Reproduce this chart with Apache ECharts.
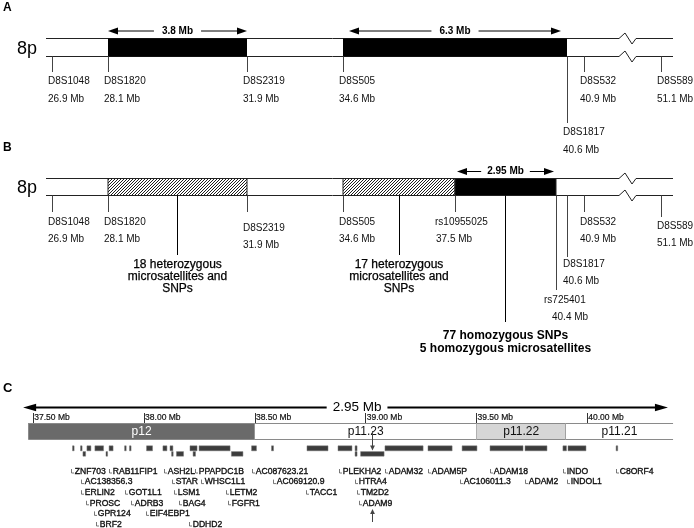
<!DOCTYPE html>
<html><head><meta charset="utf-8">
<script src="https://cdn.jsdelivr.net/npm/echarts@6/dist/echarts.min.js"></script>
<style>html,body{margin:0;padding:0;background:#fff}#c{width:694px;height:528px}</style>
</head><body><div id="c"></div>
<script>
// ================= DATA =================
// Markers (panels A & B)
const markerNames = ['D8S1048','D8S1820','D8S2319','D8S505','rs10955025','rs725401','D8S1817','D8S532','D8S589'];
const markerMb    = [26.9, 28.1, 31.9, 34.6, 37.5, 40.4, 40.6, 40.9, 51.1];
const panelAMarkers = ['D8S1048','D8S1820','D8S2319','D8S505','D8S1817','D8S532','D8S589'];
const panelBMarkers = ['D8S1048','D8S1820','D8S2319','D8S505','rs10955025','rs725401','D8S1817','D8S532','D8S589'];
// Panel A blocks of homozygosity
const blockAFrom = ['D8S1820','D8S505'];
const blockATo   = ['D8S2319','D8S1817'];
const blockASize = ['3.8 Mb','6.3 Mb'];
// Panel B blocks
const blockBFrom = ['D8S1820','D8S505','rs10955025'];
const blockBTo   = ['D8S2319','rs10955025','rs725401'];
const blockBType = ['het','het','hom'];
const blockBSize = ['','','2.95 Mb'];
const blockBNote = [
  ['18 heterozygous','microsatellites and','SNPs'],
  ['17 heterozygous','microsatellites and','SNPs'],
  ['77 homozygous SNPs','5 homozygous microsatellites']
];
// Panel C: cytobands
const bandNames   = ['p12','p11.23','p11.22','p11.21'];
const bandStartMb = [37.477, 38.5, 39.5, 39.903];
const bandEndMb   = [38.5, 39.5, 39.903, 40.387];
const bandStain   = ['gpos75','gneg','gpos25','gneg'];
const axisTickMb  = [37.5, 38.0, 38.5, 39.0, 39.5, 40.0];
const regionStartMb = 37.454, regionEndMb = 40.364, regionLabel = '2.95 Mb', regionLabelMb = 38.961;
// Panel C: gene blocks (start Mb, end Mb, track row)
const geneStartMb = [37.677,37.713,37.742,37.778,37.842,37.912,37.934,38.011,38.085,38.117,38.207,38.248,38.485,38.575,38.735,38.875,38.952,39.087,39.281,39.435,39.561,39.719,39.890,39.913,40.130,
                     37.724,37.828,38.124,38.146,38.221,38.394,38.952,38.977];
const geneEndMb   = [37.683,37.720,37.760,37.817,37.860,37.917,37.941,38.038,38.103,38.130,38.239,38.388,38.507,38.584,38.830,38.938,38.961,39.259,39.390,39.502,39.710,39.818,39.906,39.994,40.136,
                     37.736,37.835,38.130,38.178,38.232,38.446,38.961,39.083];
const geneRow     = [0,0,0,0,0,0,0,0,0,0,0,0,0,0,0,0,0,0,0,0,0,0,0,0,0,
                     1,1,1,1,1,1,1,1];
// Panel C: gene labels
const geneLabelNames = ['ZNF703','RAB11FIP1','ASH2L','PPAPDC1B','AC087623.21','PLEKHA2','ADAM32','ADAM5P','ADAM18','INDO','C8ORF4',
  'AC138356.3','STAR','WHSC1L1','AC069120.9','HTRA4','AC106011.3','ADAM2','INDOL1',
  'ERLIN2','GOT1L1','LSM1','LETM2','TACC1','TM2D2',
  'PROSC','ADRB3','BAG4','FGFR1','ADAM9',
  'GPR124','EIF4EBP1',
  'BRF2','DDHD2'];
const geneLabelMb = [37.673,37.846,38.094,38.234,38.491,38.881,39.090,39.283,39.561,39.891,40.133,
  37.718,38.130,38.260,38.582,38.952,39.429,39.721,39.912,
  37.718,37.914,38.139,38.373,38.734,38.965,
  37.742,37.944,38.162,38.383,38.970,
  37.774,38.012,
  37.786,38.207];
const geneLabelRow = [0,0,0,0,0,0,0,0,0,0,0,
  1,1,1,1,1,1,1,1,
  2,2,2,2,2,2,
  3,3,3,3,3,
  4,4,
  5,5];
const highlightGene = 'ADAM9', highlightMb = 39.03;

// ================= LAYOUT / STYLE =================
const FONT = '"Liberation Sans", Arial, Helvetica, sans-serif';
const INK = '#111';
const schematicX = {D8S1048:52, D8S1820:108, D8S2319:247, D8S505:343, rs10955025:455, rs725401:556, D8S1817:567, D8S532:584, D8S589:661};
const chromSpan = [46, 673];
const breakPts = [[619,0],[625,-5.5],[632,5.5],[636,0]];
const panels = {
  A: {top:38.5, bot:56, arrowY:31, letterY:7.5, p8Y:49.5},
  B: {top:178, bot:195, arrowY:171.5, letterY:147.5, p8Y:188.5}
};
const labelA = {def:{tick:72, name:81.5, mb:99.2, dxN:-4, dxM:-4}, D8S1817:{tick:123, name:132.5, mb:150.5}};
const labelB = {def:{tick:212, name:222, mb:239.7, dxN:-4, dxM:-4},
  D8S2319:{name:228, mb:245.5}, D8S589:{tick:217, name:226, mb:243.5},
  D8S1817:{tick:257, name:264, mb:281}, rs725401:{tick:290, name:300, mb:317, dxN:-12},
  rs10955025:{dxN:-20, dxM:-19}};
const arrowInsetA = [0, 6], arrowInsetB = [0, 0, 2];
const noteLayout = {het:{lineEnd:255, ys:[265,277,289], weight:'normal'}, hom:{lineEnd:322, ys:[335.5,349], weight:'bold'}};
const geneRowY = [[445.8,450.8],[451.6,456.2]];
const labelRowY = [471.5, 482.1, 492.7, 503.3, 513.9, 524.5];
const bandTop = 423, bandBot = 439;
const stainFill = {gpos75:'#6a6a6a', gneg:'#ffffff', gpos25:'#d6d6d6'};
const stainText = {gpos75:'#ffffff', gneg:'#111', gpos25:'#111'};

const mctx = document.createElement('canvas').getContext('2d');
function tw(t, font){ mctx.font = font; return mctx.measureText(t).width; }
function cr(v){ return Math.round(v - 0.5) + 0.5; }
function txt(t, x, y, size, weight, align, fill, embolden){
  const s = {text:t, x:x, y:y, fill:fill||INK, font:(weight||'normal')+' '+size+'px '+FONT, align:align||'left', verticalAlign:'middle'};
  if (embolden) { s.stroke = fill||INK; s.lineWidth = embolden; }
  return {type:'text', style:s};
}
function hline(x1,x2,y,col,lw){ return {type:'line', shape:{x1:x1,y1:y,x2:x2,y2:y}, style:{stroke:col||INK, lineWidth:lw||1}}; }
function vline(x,y1,y2,col,lw){ return {type:'line', shape:{x1:x,y1:y1,x2:x,y2:y2}, style:{stroke:col||INK, lineWidth:lw||1}}; }
function dblArrow(x1, x2, y, label, size, weight, head, half, lw, labelX, gap){
  const font = weight+' '+size+'px '+FONT;
  const w = tw(label, font);
  const cx = labelX;
  const ch = [];
  ch.push(hline(x1+head-1, cx-w/2-gap, y, '#000', lw));
  ch.push(hline(cx+w/2+gap, x2-head+1, y, '#000', lw));
  ch.push({type:'polygon', shape:{points:[[x1,y],[x1+head,y-half],[x1+head,y+half]]}, style:{fill:'#000'}});
  ch.push({type:'polygon', shape:{points:[[x2,y],[x2-head,y-half],[x2-head,y+half]]}, style:{fill:'#000'}});
  ch.push(txt(label, cx, y, size, weight, 'center', '#000'));
  return ch;
}
function makeHatch(){
  const c = document.createElement('canvas'); c.width = 3; c.height = 3;
  const g = c.getContext('2d'); g.fillStyle = '#fff'; g.fillRect(0,0,3,3);
  g.strokeStyle = '#1e1e1e'; g.lineWidth = 1;
  g.beginPath(); g.moveTo(0,3); g.lineTo(3,0); g.moveTo(-1,1); g.lineTo(1,-1); g.moveTo(2,4); g.lineTo(4,2); g.stroke();
  return c;
}
const hatch = makeHatch();

// ---------- render functions ----------
function outlineRender(params, api){
  const key = params.dataIndex === 0 ? 'A' : 'B';
  const L = panels[key];
  const ch = [];
  [L.top, L.bot].forEach(function(yy){
    const a = api.coord([chromSpan[0], yy]), b = api.coord([breakPts[0][0], yy]);
    const y = cr(a[1]);
    ch.push(hline(a[0], b[0], y, '#222'));
    const pts = breakPts.map(function(p){ const q = api.coord([p[0], yy + p[1]]); return [q[0], y + (q[1]-a[1])]; });
    ch.push({type:'polyline', shape:{points:pts}, style:{stroke:'#222', lineWidth:1, fill:null}});
    const c = api.coord([breakPts[3][0], yy]), d = api.coord([chromSpan[1], yy]);
    ch.push(hline(c[0], d[0], y, '#222'));
  });
  const lp = api.coord([3, L.letterY]);
  ch.push(txt(key, lp[0], lp[1], 12, 'bold', 'left', '#000'));
  const p8 = api.coord([17, L.p8Y]);
  ch.push(txt('8p', p8[0], p8[1], 18, 'normal', 'left', '#000'));
  return {type:'group', children:ch};
}
function blocksARender(params, api){
  const i = params.dataIndex;
  const L = panels.A;
  const a = api.coord([api.value(0), L.top]), b = api.coord([api.value(1), L.bot]);
  const ch = [{type:'rect', shape:{x:a[0], y:cr(a[1]), width:b[0]-a[0], height:cr(b[1])-cr(a[1])}, style:{fill:'#000'}}];
  const ay = api.coord([0, L.arrowY])[1];
  const ins = arrowInsetA[i];
  dblArrow(a[0]+ins, b[0]-ins, ay, blockASize[i], 10, 'bold', 10, 3.6, 1, (a[0]+b[0])/2, 8).forEach(function(c){ch.push(c);});
  return {type:'group', children:ch};
}
function blocksBRender(params, api){
  const i = params.dataIndex;
  const L = panels.B;
  const a = api.coord([api.value(0), L.top]), b = api.coord([api.value(1), L.bot]);
  const type = blockBType[i];
  const ch = [{type:'rect', shape:{x:a[0], y:cr(a[1]), width:b[0]-a[0], height:cr(b[1])-cr(a[1])},
    style:{fill: type === 'hom' ? '#000' : {image:hatch, repeat:'repeat'}, stroke:'#222', lineWidth:1}}];
  const mx = (a[0]+b[0])/2;
  if (blockBSize[i]) {
    const ay = api.coord([0, L.arrowY])[1];
    const ins = arrowInsetB[i];
    dblArrow(a[0]+ins, b[0]-ins, ay, blockBSize[i], 10, 'bold', 10, 3.6, 1, mx, 6).forEach(function(c){ch.push(c);});
  }
  const N = noteLayout[type];
  const e = api.coord([0, N.lineEnd])[1];
  ch.push(vline(cr(mx), cr(b[1]), e, '#000'));
  blockBNote[i].forEach(function(t, k){
    const y = api.coord([0, N.ys[k]])[1];
    ch.push(txt(t, mx, y, 12, N.weight, 'center', '#000', N.weight === 'normal' ? 0.25 : 0));
  });
  return {type:'group', children:ch};
}
function markerRender(panelKey, names, cfgs){
  return function(params, api){
    const name = names[params.dataIndex];
    const idx = markerNames.indexOf(name);
    const cfg = Object.assign({}, cfgs.def, cfgs[name] || {});
    const x = api.value(0);
    const p0 = api.coord([x, panels[panelKey].bot]);
    const p1 = api.coord([x, cfg.tick]);
    const pn = api.coord([x + cfg.dxN, cfg.name]);
    const pm = api.coord([x + cfg.dxM, cfg.mb]);
    return {type:'group', children:[
      vline(cr(p0[0]), cr(p0[1]), p1[1], '#444'),
      txt(name, pn[0], pn[1], 10, 'normal', 'left', INK),
      txt(markerMb[idx].toFixed(1) + ' Mb', pm[0], pm[1], 10, 'normal', 'left', INK)
    ]};
  };
}
function bandRender(params, api){
  const i = params.dataIndex;
  const a = api.coord([api.value(0), bandTop]), b = api.coord([api.value(1), bandBot]);
  const st = bandStain[i];
  const ch = [{type:'rect', shape:{x:a[0], y:a[1], width:b[0]-a[0], height:b[1]-a[1]}, style:{fill:stainFill[st]}}];
  ch.push(hline(a[0], b[0], cr(a[1]), '#8a8a8a'));
  ch.push(hline(a[0], b[0], cr(b[1]), '#8a8a8a'));
  if (i === 0) ch.push(vline(cr(a[0]), a[1], b[1], '#8a8a8a'));
  if (i < bandNames.length - 1) ch.push(vline(cr(b[0]), a[1], b[1], '#8a8a8a'));
  ch.push(txt(bandNames[i], (a[0]+b[0])/2, (a[1]+b[1])/2 + 0.5, 12, 'normal', 'center', stainText[st]));
  return {type:'group', children:ch};
}
function geneRender(params, api){
  const r = api.value(2);
  const a = api.coord([api.value(0), geneRowY[r][0]]), b = api.coord([api.value(1), geneRowY[r][1]]);
  const w = Math.max(1.6, b[0]-a[0]);
  return {type:'rect', shape:{x:a[0], y:a[1], width:w, height:b[1]-a[1]}, style:{fill:'#3c3c3c', stroke:'#7a7a7a', lineWidth:0.5}};
}
function geneLabelRender(params, api){
  const i = params.dataIndex;
  const p = api.coord([api.value(0), labelRowY[api.value(1)]]);
  const x = cr(p[0]), y = p[1];
  return {type:'group', children:[
    {type:'polyline', shape:{points:[[x, y-2.5],[x, y+1.5],[x+2.5, y+1.5]]}, style:{stroke:'#555', lineWidth:0.8, fill:null}},
    txt(geneLabelNames[i], x + 3.2, y, 8.6, 'normal', 'left', INK, 0.35)
  ]};
}
function regionRender(params, api){
  const a = api.coord([regionStartMb, 407.5]), b = api.coord([regionEndMb, 407.5]);
  const lx = api.coord([regionLabelMb, 407.5])[0];
  const ch = dblArrow(a[0], b[0], a[1], regionLabel, 13.5, 'normal', 13, 3.8, 2, lx, 6);
  const cp = api.coord([37.4535 - 0.09, 388]);
  ch.push(txt('C', 3, cp[1], 13, 'bold', 'left', '#000'));
  return {type:'group', children:ch};
}
function highlightRender(params, api){
  const x = cr(api.coord([api.value(0), 0])[0]);
  const y1 = api.coord([0, 431])[1], y2 = api.coord([0, 450.5])[1];
  const u1 = api.coord([0, 522])[1], u2 = api.coord([0, 509])[1];
  return {type:'group', children:[
    vline(x, y1, y2 - 4, '#444'),
    {type:'polygon', shape:{points:[[x, y2],[x-2.4, y2-5],[x+2.4, y2-5]]}, style:{fill:'#444'}},
    vline(x, u1, u2 + 4, '#444'),
    {type:'polygon', shape:{points:[[x, u2],[x-2.4, u2+5],[x+2.4, u2+5]]}, style:{fill:'#444'}}
  ]};
}

// ================= CHART =================
const chart = echarts.init(document.getElementById('c'), null, {renderer:'canvas'});
const gridC = {left:22.22, width:664.8, top:bandTop, height:105};
const option = {
  animation:false,
  backgroundColor:'#fff',
  grid:[{left:0, top:0, width:694, height:528}, gridC],
  xAxis:[
    {type:'value', gridIndex:0, min:0, max:694, show:false},
    {type:'value', gridIndex:1, min:37.45, max:40.45, position:'top',
     axisLine:{show:false}, splitLine:{show:false},
     axisTick:{show:true, length:10, customValues:axisTickMb, lineStyle:{color:'#333', width:1}},
     axisLabel:{show:true, customValues:axisTickMb, margin:1, align:'left', padding:[0,0,0,1],
       fontSize:8.5, fontFamily:FONT, color:'#111', textBorderColor:'#111', textBorderWidth:0.2,
       formatter:function(v){ return v.toFixed(2) + ' Mb'; }}}
  ],
  yAxis:[
    {type:'value', gridIndex:0, min:0, max:528, inverse:true, show:false},
    {type:'value', gridIndex:1, min:bandTop, max:528, inverse:true, show:false}
  ],
  series:[
    {type:'custom', name:'outline', xAxisIndex:0, yAxisIndex:0, silent:true, renderItem:outlineRender, data:[[0],[1]]},
    {type:'custom', name:'blocksA', xAxisIndex:0, yAxisIndex:0, silent:true, renderItem:blocksARender,
      data: blockAFrom.map(function(f,i){ return [schematicX[f], schematicX[blockATo[i]]]; })},
    {type:'custom', name:'blocksB', xAxisIndex:0, yAxisIndex:0, silent:true, renderItem:blocksBRender,
      data: blockBFrom.map(function(f,i){ return [schematicX[f], schematicX[blockBTo[i]]]; })},
    {type:'custom', name:'markersA', xAxisIndex:0, yAxisIndex:0, silent:true, renderItem:markerRender('A', panelAMarkers, labelA),
      data: panelAMarkers.map(function(n){ return [schematicX[n]]; })},
    {type:'custom', name:'markersB', xAxisIndex:0, yAxisIndex:0, silent:true, renderItem:markerRender('B', panelBMarkers, labelB),
      data: panelBMarkers.map(function(n){ return [schematicX[n]]; })},
    {type:'custom', name:'region', xAxisIndex:1, yAxisIndex:1, silent:true, renderItem:regionRender, data:[[regionStartMb, regionEndMb]]},
    {type:'custom', name:'bands', xAxisIndex:1, yAxisIndex:1, silent:true, renderItem:bandRender,
      data: bandNames.map(function(n,i){ return [bandStartMb[i], bandEndMb[i]]; })},
    {type:'custom', name:'genes', xAxisIndex:1, yAxisIndex:1, silent:true, renderItem:geneRender,
      data: geneStartMb.map(function(s,i){ return [s, geneEndMb[i], geneRow[i]]; })},
    {type:'custom', name:'geneLabels', xAxisIndex:1, yAxisIndex:1, silent:true, renderItem:geneLabelRender,
      data: geneLabelNames.map(function(n,i){ return [geneLabelMb[i], geneLabelRow[i]]; })},
    {type:'custom', name:'highlight', xAxisIndex:1, yAxisIndex:1, silent:true, renderItem:highlightRender, data:[[highlightMb]]}
  ]
};
chart.setOption(option);
</script></body></html>
